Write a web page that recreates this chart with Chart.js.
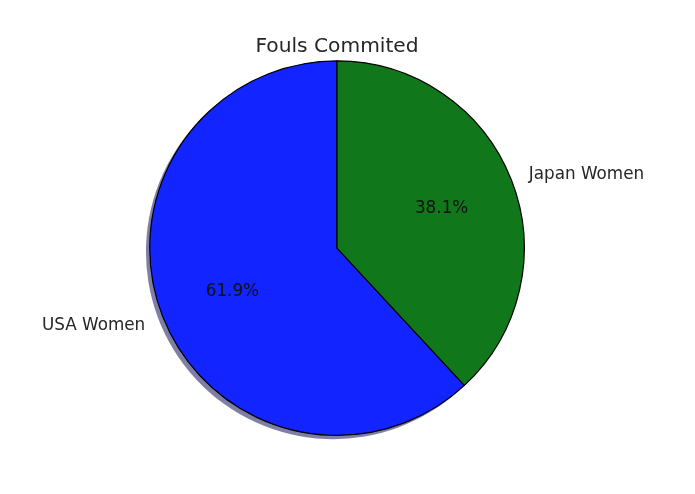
<!DOCTYPE html>
<html>
<head>
<meta charset="utf-8">
<script src="https://cdn.jsdelivr.net/npm/chart.js@4"></script>
<style>
  html, body { margin: 0; padding: 0; background: #ffffff; }
  #wrap { width: 695px; height: 494px; }
</style>
</head>
<body>
<div id="wrap"><canvas id="c" width="695" height="494"></canvas></div>
<script>
const categories = ["USA Women", "Japan Women"];
const fouls = [13, 8];
const sliceColors = ["#1224ff", "#10781a"];
const chartTitle = "Fouls Commited";

const total = fouls.reduce((a, b) => a + b, 0);
const startRotation = -fouls[0] / total * 360;
const FONT = "'DejaVu Sans', sans-serif";

const shadowPlugin = {
  id: "pieShadow",
  beforeDatasetsDraw(chart) {
    const meta = chart.getDatasetMeta(0);
    const ctx = chart.ctx;
    ctx.save();
    meta.data.forEach((arc, i) => {
      const p = arc.getProps(["x", "y", "startAngle", "endAngle", "outerRadius"], true);
      const off = p.outerRadius * 0.02;
      const cx = p.x - off, cy = p.y + off;
      ctx.beginPath();
      ctx.moveTo(cx, cy);
      ctx.arc(cx, cy, p.outerRadius, p.startAngle, p.endAngle);
      ctx.closePath();
      ctx.fillStyle = i === 0 ? "rgba(0,0,77,0.5)" : "rgba(0,36,0,0.5)";
      ctx.fill();
    });
    ctx.restore();
  }
};

const labelPlugin = {
  id: "pieLabels",
  afterDatasetsDraw(chart) {
    const meta = chart.getDatasetMeta(0);
    const ctx = chart.ctx;
    ctx.save();
    ctx.font = "16.8px " + FONT;
    ctx.textBaseline = "middle";
    const dy = 2;
    meta.data.forEach((arc, i) => {
      const p = arc.getProps(["x", "y", "startAngle", "endAngle", "outerRadius"], true);
      const mid = (p.startAngle + p.endAngle) / 2;
      const c = Math.cos(mid), s = Math.sin(mid);
      ctx.fillStyle = "#111111";
      ctx.textAlign = "center";
      const pct = (fouls[i] / total * 100).toFixed(1) + "%";
      ctx.fillText(pct, p.x + c * p.outerRadius * 0.6, p.y + s * p.outerRadius * 0.6 + dy);
      ctx.fillStyle = "#262626";
      ctx.textAlign = c < 0 ? "right" : "left";
      ctx.fillText(categories[i], p.x + c * p.outerRadius * 1.1, p.y + s * p.outerRadius * 1.1 + dy);
    });
    ctx.restore();
  }
};

new Chart(document.getElementById("c"), {
  type: "pie",
  data: {
    labels: categories,
    datasets: [{
      data: fouls,
      backgroundColor: sliceColors,
      borderColor: "#000000",
      borderWidth: 1.2,
      hoverOffset: 0
    }]
  },
  options: {
    responsive: false,
    devicePixelRatio: 1,
    animation: false,
    rotation: startRotation,
    layout: { padding: { left: 149, right: 170, top: 35, bottom: 58 } },
    plugins: {
      legend: { display: false },
      tooltip: { enabled: false },
      title: {
        display: true,
        text: chartTitle,
        color: "#262626",
        font: { family: FONT, size: 20.2, weight: "normal", lineHeight: 1.2 },
        padding: { top: 0, bottom: 1 }
      }
    }
  },
  plugins: [shadowPlugin, labelPlugin]
});
</script>
</body>
</html>
